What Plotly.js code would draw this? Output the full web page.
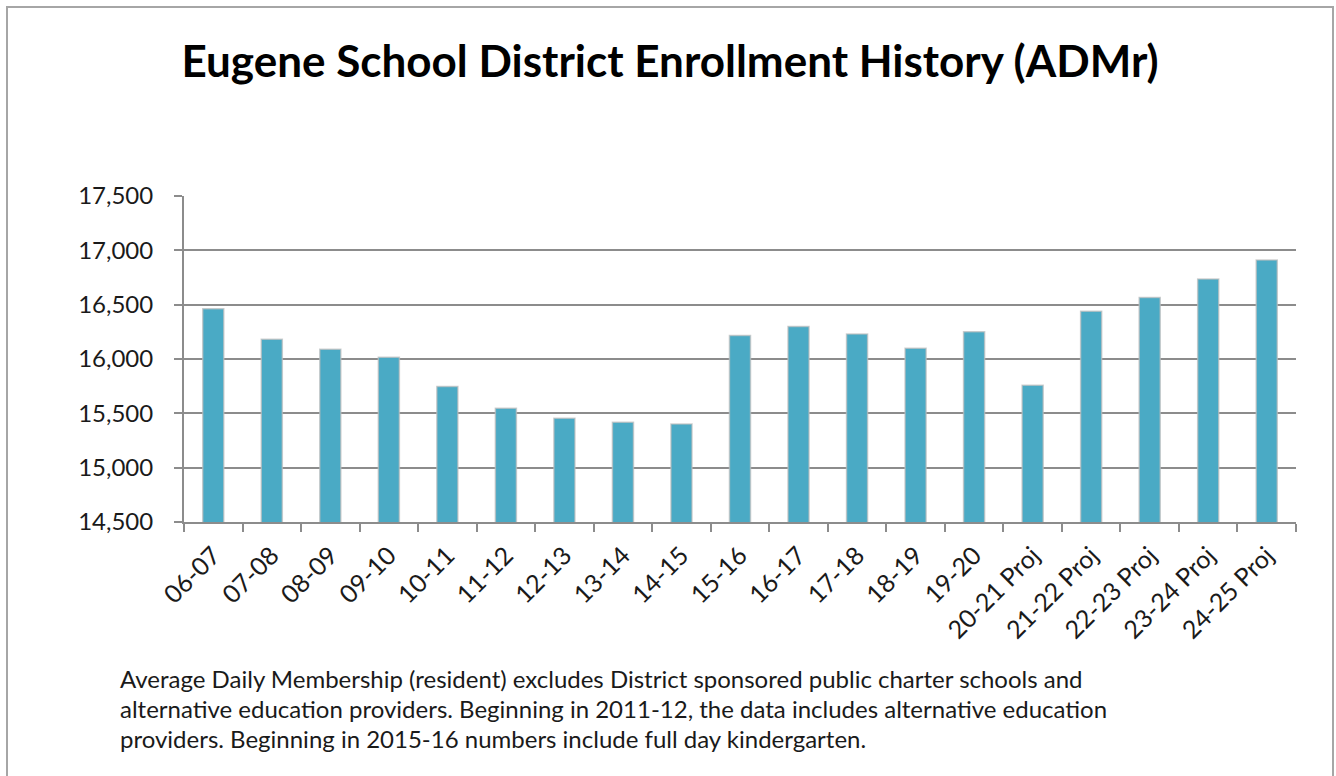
<!DOCTYPE html>
<html>
<head>
<meta charset="utf-8">
<script src="https://cdn.plot.ly/plotly-3.0.1.min.js"></script>
<style>
  html, body { margin: 0; padding: 0; background: #ffffff; }
  #chart { width: 1336px; height: 776px; }
  #frame { position: absolute; left: 6px; top: 6px; width: 1324px; height: 800px;
           border-left: 2px solid #a6a6a6; border-top: 2px solid #a6a6a6; border-right: 2px solid #a6a6a6;
           pointer-events: none; }
</style>
</head>
<body>
<div id="chart"></div>
<div id="frame"></div>
<script>
const categories = ["06-07","07-08","08-09","09-10","10-11","11-12","12-13","13-14","14-15","15-16",
  "16-17","17-18","18-19","19-20","20-21 Proj","21-22 Proj","22-23 Proj","23-24 Proj","24-25 Proj"];
const enrollment = [16463, 16181, 16089, 16015, 15746, 15546, 15454, 15417, 15402, 16217,
  16300, 16230, 16098, 16251, 15758, 16439, 16567, 16736, 16910];
const yTickValues = [14500, 15000, 15500, 16000, 16500, 17000, 17500];
const yTickLabels = ["14,500","15,000","15,500","16,000","16,500","17,000","17,500"];
const titleText = "Eugene School District Enrollment History (ADMr)";
const noteLines = [
  "Average Daily Membership (resident) excludes District sponsored public charter schools and",
  "alternative education providers. Beginning in 2011-12, the data includes alternative education",
  "providers. Beginning in 2015-16 numbers include full day kindergarten."
];

const fontFam = "Lato, 'Open Sans', sans-serif";

const trace = {
  type: "bar",
  x: categories,
  y: enrollment,
  marker: { color: "#4aaac5", line: { color: "rgba(190,190,190,0.7)", width: 1.5 } },
  hoverinfo: "x+y"
};

const annotations = noteLines.map((t, i) => ({
  text: t, xref: "paper", yref: "paper",
  x: (118 - 184) / 1112, y: (522 - (678 + i * 30)) / 326,
  xanchor: "left", yanchor: "middle", showarrow: false,
  font: { family: fontFam, size: 24, color: "#1a1a1a" }
}));

const layout = {
  width: 1336, height: 776,
  margin: { l: 184, r: 40, t: 196, b: 254 },
  paper_bgcolor: "#ffffff", plot_bgcolor: "#ffffff",
  showlegend: false,
  bargap: 0.64,
  title: {
    text: "<b>" + titleText + "</b>",
    xref: "container", yref: "container",
    x: 670 / 1336, xanchor: "center",
    y: 1 - 62 / 776, yanchor: "middle",
    font: { family: fontFam, size: 44, color: "#000000" }
  },
  xaxis: {
    type: "category",
    tickangle: -45,
    ticks: "outside", tickson: "boundaries", ticklen: 8, tickwidth: 2, tickcolor: "#8c8c8c",
    showline: true, linecolor: "#8c8c8c", linewidth: 2,
    showgrid: false,
    ticklabelstandoff: 7,
    tickfont: { family: fontFam, size: 25, color: "#1a1a1a" }
  },
  yaxis: {
    range: [14500, 17500],
    tickvals: yTickValues, ticktext: yTickLabels,
    ticks: "outside", ticklen: 8, tickwidth: 2, tickcolor: "#8c8c8c",
    showline: true, linecolor: "#8c8c8c", linewidth: 2,
    showgrid: true, gridcolor: "#8c8c8c", gridwidth: 2,
    zeroline: false,
    ticklabelstandoff: 16,
    tickfont: { family: fontFam, size: 24, color: "#1a1a1a" }
  },
  annotations: annotations
};

Plotly.newPlot("chart", [trace], layout, { displayModeBar: false, responsive: false });
</script>
</body>
</html>
